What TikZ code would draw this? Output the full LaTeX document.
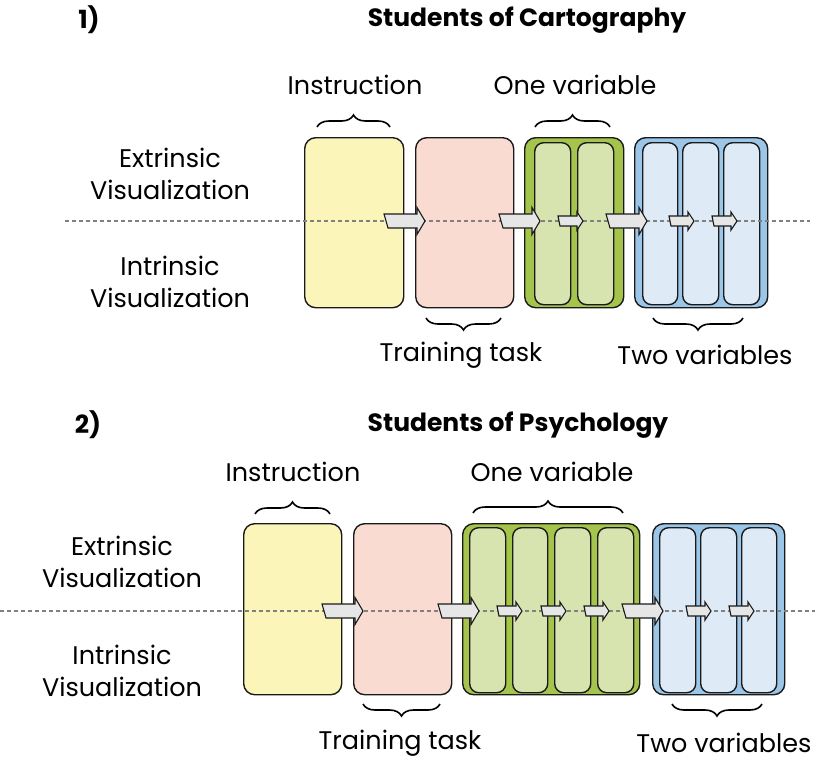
\documentclass[tikz,border=0pt]{standalone}
\usepackage{fontspec}
\setmainfont{Poppins}
\usetikzlibrary{decorations.pathreplacing}

\definecolor{boxyellow}{HTML}{FBF5BA}
\definecolor{boxpink}{HTML}{FADBD2}
\definecolor{boxgreen}{HTML}{A5C44B}
\definecolor{colgreen}{HTML}{D7E4B0}
\definecolor{boxblue}{HTML}{9CC6E8}
\definecolor{colblue}{HTML}{DEEBF7}
\definecolor{arrowgray}{HTML}{E6E6E6}
\definecolor{ink}{HTML}{1A1A1A}

\tikzset{
  stage/.style={draw=ink, line width=1.4pt, rounded corners=11pt, inner sep=0pt, anchor=north west},
  lane/.style={draw=ink, line width=1.4pt, rounded corners=9pt, inner sep=0pt, anchor=north west},
  guide/.style={draw=gray, line width=1.3pt, dash pattern=on 4pt off 3pt},
  blk/.style={draw=ink, line width=1.1pt, fill=arrowgray, line join=miter},
  brc/.style={decorate, decoration={brace, amplitude=12pt}, line width=1.6pt},
  lbl/.style={font=\fontsize{25.5}{32}\selectfont, align=center, inner sep=0pt},
  ttl/.style={font=\fontsize{25}{28}\selectfont\bfseries, inner sep=0pt},
  bigarr/.pic={\draw[blk] (-41,-7) -- (-8,-7) -- (-8,-13.5) -- (0,0) -- (-8,13.5) -- (-8,7) -- (-37,7) -- cycle;},
  smallarr/.pic={\draw[blk] (-25,-5) -- (-6,-5) -- (-6,-9) -- (0,0) -- (-6,9) -- (-6,5) -- (-23,5) -- cycle;}
}

\begin{document}
\begin{tikzpicture}[x=1pt, y=-1pt]
\useasboundingbox (0,0) rectangle (817,761);

% ---------------- Panel 1: cartography students ----------------
\node[ttl] (n1) at (89,20) {1)};
\node[ttl] (t1) at (527,20) {Students of Cartography};

\node[stage, fill=boxyellow, minimum width=99pt, minimum height=170pt] (ins1) at (304,137) {};
\node[stage, fill=boxpink,   minimum width=98pt, minimum height=170pt] (tr1)  at (415,137) {};
\node[stage, fill=boxgreen,  minimum width=99pt, minimum height=170pt] (one1) at (524,137) {};
\node[lane, fill=colgreen, minimum width=36pt, minimum height=162pt] (one1a) at (534,142) {};
\node[lane, fill=colgreen, minimum width=36pt, minimum height=162pt] (one1b) at (577,142) {};
\node[stage, fill=boxblue,   minimum width=133pt, minimum height=170pt] (two1) at (634,137) {};
\node[lane, fill=colblue, minimum width=35pt, minimum height=162pt] (two1a) at (642,142) {};
\node[lane, fill=colblue, minimum width=36pt, minimum height=162pt] (two1b) at (682,142) {};
\node[lane, fill=colblue, minimum width=36pt, minimum height=162pt] (two1c) at (723,142) {};

\coordinate (g1s) at (65,221);
\coordinate (g1e) at (810,221);
\draw[guide] (g1s) -- (g1e);

\pic at (425,221) {bigarr};
\pic at (540,221) {bigarr};
\pic at (583,221) {smallarr};
\pic at (647,221) {bigarr};
\pic at (694,221) {smallarr};
\pic at (737,221) {smallarr};

\node[lbl] (ext1) at (170,174) {Extrinsic\\Visualization};
\node[lbl] (int1) at (170,282) {Intrinsic\\Visualization};

\coordinate (b1a) at (317,127); \coordinate (b1b) at (390,127);
\draw[brc] (b1a) -- (b1b);
\coordinate (b2a) at (535,127); \coordinate (b2b) at (610,127);
\draw[brc] (b2a) -- (b2b);
\coordinate (b3a) at (501,318); \coordinate (b3b) at (426,318);
\draw[brc] (b3a) -- (b3b);
\coordinate (b4a) at (743,318); \coordinate (b4b) at (653,318);
\draw[brc] (b4a) -- (b4b);

\node[lbl] (l1a) at (355,85) {Instruction};
\node[lbl] (l1b) at (575,85) {One variable};
\node[lbl] (l1c) at (461,355) {Training task};
\node[lbl] (l1d) at (705,355) {Two variables};

% ---------------- Panel 2: psychology students ----------------
\node[ttl] (n2) at (88,425) {2)};
\node[ttl] (t2) at (518,425) {Students of Psychology};

\node[stage, fill=boxyellow, minimum width=98pt, minimum height=171pt] (ins2) at (243,523) {};
\node[stage, fill=boxpink,   minimum width=98pt, minimum height=171pt] (tr2)  at (353,523) {};
\node[stage, fill=boxgreen,  minimum width=177pt, minimum height=171pt] (one2) at (462,523) {};
\node[lane, fill=colgreen, minimum width=36pt, minimum height=165pt] (one2a) at (469,527) {};
\node[lane, fill=colgreen, minimum width=35pt, minimum height=165pt] (one2b) at (512,527) {};
\node[lane, fill=colgreen, minimum width=36pt, minimum height=165pt] (one2c) at (554,527) {};
\node[lane, fill=colgreen, minimum width=36pt, minimum height=165pt] (one2d) at (597,527) {};
\node[stage, fill=boxblue,   minimum width=132pt, minimum height=171pt] (two2) at (652,523) {};
\node[lane, fill=colblue, minimum width=36pt, minimum height=165pt] (two2a) at (659,527) {};
\node[lane, fill=colblue, minimum width=36pt, minimum height=165pt] (two2b) at (700,527) {};
\node[lane, fill=colblue, minimum width=35pt, minimum height=165pt] (two2c) at (741,527) {};

\coordinate (g2s) at (0,611);
\coordinate (g2e) at (815,611);
\draw[guide] (g2s) -- (g2e);

\pic at (363,611) {bigarr};
\pic at (479,611) {bigarr};
\pic at (522,611) {smallarr};
\pic at (566,611) {smallarr};
\pic at (609,611) {smallarr};
\pic at (663,611) {bigarr};
\pic at (711,611) {smallarr};
\pic at (754,611) {smallarr};

\node[lbl] (ext2) at (122,562) {Extrinsic\\Visualization};
\node[lbl] (int2) at (122,671) {Intrinsic\\Visualization};

\coordinate (c1a) at (255,514); \coordinate (c1b) at (330,514);
\draw[brc] (c1a) -- (c1b);
\coordinate (c2a) at (473,513); \coordinate (c2b) at (623,513);
\draw[brc] (c2a) -- (c2b);
\coordinate (c3a) at (440,704); \coordinate (c3b) at (363,704);
\draw[brc] (c3a) -- (c3b);
\coordinate (c4a) at (762,704); \coordinate (c4b) at (672,704);
\draw[brc] (c4a) -- (c4b);

\node[lbl] (l2a) at (293,472) {Instruction};
\node[lbl] (l2b) at (552,472) {One variable};
\node[lbl] (l2c) at (400,743) {Training task};
\node[lbl] (l2d) at (724,743) {Two variables};
\end{tikzpicture}
\end{document}
